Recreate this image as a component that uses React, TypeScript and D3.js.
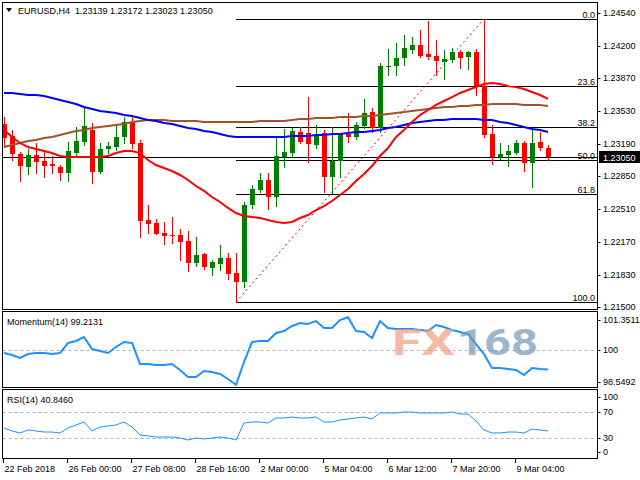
import * as d3 from 'd3';

// EURUSD H4 bars, 22 Feb 2018 16:00 .. 9 Mar 2018 20:00
const opens = [
  1.23392, 1.23268, 1.23082, 1.22948, 1.23072, 1.2301, 1.22979, 1.22948, 1.22886, 1.23092,
  1.23206, 1.2333, 1.22896, 1.23134, 1.23154, 1.23258, 1.23413, 1.23196, 1.224, 1.22369,
  1.22265, 1.22245, 1.22245, 1.22183, 1.21955, 1.22048, 1.21903, 1.21945, 1.22007, 1.21852,
  1.21759, 1.22555, 1.2271, 1.22813, 1.22637, 1.23051, 1.23092, 1.2331, 1.23299, 1.23175,
  1.23299, 1.22844, 1.2301, 1.23289, 1.23258, 1.23372, 1.23516, 1.23351, 1.23982, 1.23992,
  1.24075, 1.24157, 1.24209, 1.24116, 1.24095, 1.24033, 1.24054, 1.24137, 1.24085, 1.24137,
  1.23785, 1.23289, 1.23051, 1.23072, 1.23092, 1.23196, 1.22989, 1.23206, 1.23139,
];
const highs = [
  1.23465, 1.2333, 1.23103, 1.23134, 1.23196, 1.23103, 1.23061, 1.22968, 1.23206, 1.23361,
  1.23558, 1.23403, 1.23196, 1.23206, 1.23382, 1.23465, 1.23465, 1.23227, 1.22555, 1.2241,
  1.22379, 1.22431, 1.22307, 1.22286, 1.22224, 1.22058, 1.21986, 1.22141, 1.22058, 1.22058,
  1.22586, 1.22762, 1.22886, 1.22886, 1.23248, 1.23341, 1.23351, 1.23361, 1.23671, 1.23382,
  1.2333, 1.23361, 1.23299, 1.23506, 1.23413, 1.23651, 1.23558, 1.24023, 1.24168, 1.2423,
  1.24313, 1.24292, 1.24364, 1.24462, 1.24261, 1.24157, 1.24178, 1.24157, 1.24147, 1.24168,
  1.24478, 1.23382, 1.23196, 1.23175, 1.23227, 1.23217, 1.23351, 1.2331, 1.23172,
];
const lows = [
  1.23154, 1.2302, 1.22803, 1.22875, 1.22886, 1.22844, 1.22886, 1.22813, 1.22803, 1.23072,
  1.23175, 1.22782, 1.22886, 1.23092, 1.23123, 1.23196, 1.23144, 1.22224, 1.22265, 1.22255,
  1.22151, 1.22162, 1.21986, 1.21872, 1.21924, 1.21893, 1.21831, 1.21883, 1.2179, 1.21552,
  1.21707, 1.22524, 1.22689, 1.22513, 1.22544, 1.22948, 1.23051, 1.23196, 1.22999, 1.23144,
  1.22689, 1.22679, 1.22844, 1.23206, 1.23237, 1.23351, 1.2331, 1.2331, 1.23899, 1.23899,
  1.24002, 1.24126, 1.24085, 1.24064, 1.23899, 1.23858, 1.24033, 1.23971, 1.23961, 1.23692,
  1.23258, 1.22979, 1.2303, 1.22958, 1.23082, 1.22906, 1.22741, 1.23123, 1.23023,
];
const closes = [
  1.23248, 1.23082, 1.22958, 1.23072, 1.22999, 1.22958, 1.22958, 1.22886, 1.23113, 1.23217,
  1.23372, 1.22896, 1.23134, 1.23165, 1.23258, 1.23413, 1.23186, 1.22389, 1.22358, 1.22255,
  1.22234, 1.2224, 1.22172, 1.21955, 1.22038, 1.21914, 1.21965, 1.22007, 1.21841, 1.21759,
  1.22555, 1.2272, 1.22813, 1.22637, 1.23061, 1.23103, 1.2332, 1.23206, 1.23186, 1.23279,
  1.22844, 1.2301, 1.23289, 1.23258, 1.23382, 1.23506, 1.23351, 1.23992, 1.23987, 1.24075,
  1.24178, 1.24209, 1.24095, 1.24085, 1.24044, 1.24064, 1.24137, 1.24075, 1.24137, 1.23785,
  1.23279, 1.23051, 1.23082, 1.23113, 1.23196, 1.22989, 1.23196, 1.23144, 1.2305,
];

// moving averages
const maFast = [
  1.2333, 1.23258, 1.23196, 1.23154, 1.23134, 1.23113, 1.23092, 1.23061, 1.23051, 1.23051,
  1.23051, 1.23051, 1.23051, 1.23061, 1.23092, 1.23113, 1.23113, 1.23092, 1.2302, 1.22968,
  1.22937, 1.22906, 1.22865, 1.22813, 1.22751, 1.227, 1.22637, 1.22586, 1.22524, 1.22472,
  1.22441, 1.22431, 1.2242, 1.224, 1.22379, 1.22369, 1.22379, 1.2242, 1.22451, 1.22503,
  1.22544, 1.22596, 1.22658, 1.2272, 1.22803, 1.22875, 1.22958, 1.23061, 1.23144, 1.23258,
  1.2333, 1.23413, 1.23485, 1.23537, 1.23589, 1.2363, 1.23671, 1.23713, 1.23744, 1.23775,
  1.23806, 1.23816, 1.23806, 1.23785, 1.23775, 1.23754, 1.23723, 1.23692, 1.23651,
];
const maMid = [
  1.23713, 1.23713, 1.23702, 1.23692, 1.23692, 1.23682, 1.23661, 1.2364, 1.2362, 1.23599,
  1.23568, 1.23547, 1.23527, 1.23516, 1.23506, 1.23485, 1.23475, 1.23454, 1.23434, 1.23423,
  1.23403, 1.23392, 1.23372, 1.23351, 1.23341, 1.2332, 1.2331, 1.23289, 1.23268, 1.23258,
  1.23258, 1.23258, 1.23258, 1.23258, 1.23258, 1.23258, 1.23268, 1.23268, 1.23268, 1.23279,
  1.23279, 1.23289, 1.23289, 1.23299, 1.2331, 1.2331, 1.2332, 1.2333, 1.23351, 1.23361,
  1.23382, 1.23403, 1.23413, 1.23423, 1.23434, 1.23434, 1.23444, 1.23444, 1.23444, 1.23444,
  1.23434, 1.23434, 1.23413, 1.23403, 1.23382, 1.23361, 1.23341, 1.2333, 1.2331,
];
const maSlow = [
  1.23154, 1.23175, 1.23196, 1.23217, 1.23227, 1.23248, 1.23258, 1.23279, 1.23299, 1.2332,
  1.2333, 1.23351, 1.23361, 1.23372, 1.23382, 1.23392, 1.23413, 1.23423, 1.23434, 1.23434,
  1.23434, 1.23423, 1.23423, 1.23423, 1.23423, 1.23413, 1.23413, 1.23413, 1.23413, 1.23413,
  1.23413, 1.23413, 1.23423, 1.23423, 1.23423, 1.23423, 1.23434, 1.23444, 1.23444, 1.23454,
  1.23454, 1.23454, 1.23465, 1.23465, 1.23465, 1.23475, 1.23475, 1.23485, 1.23496, 1.23506,
  1.23516, 1.23527, 1.23537, 1.23547, 1.23558, 1.23568, 1.23568, 1.23578, 1.23578, 1.23589,
  1.23589, 1.23599, 1.23599, 1.23599, 1.23599, 1.23589, 1.23589, 1.23589, 1.23578,
];

const momentum = [
  99.87, 99.79, 99.67, 99.83, 99.87, 99.87, 99.83, 99.87, 100.27, 100.35,
  100.51, 100.03, 99.95, 99.87, 100.11, 100.31, 100.27, 99.43, 99.43, 99.39,
  99.39, 99.43, 99.19, 98.91, 98.91, 99.15, 99.11, 99.03, 98.83, 98.6,
  99.51, 100.31, 100.35, 100.35, 100.67, 100.75, 100.95, 101.07, 101.03, 101.15,
  100.87, 100.87, 101.19, 101.3, 100.75, 100.71, 100.47, 101.15, 100.87, 100.83,
  100.83, 100.83, 100.79, 100.75, 100.99, 100.91, 100.79, 100.71, 100.63, 100.23,
  99.83, 99.27, 99.27, 99.23, 99.19, 98.99, 99.27, 99.23, 99.2131,
];
const rsi = [
  45.4, 40.8, 37.7, 42.3, 40.8, 39.2, 39.2, 37.7, 45.4, 50.0,
  54.6, 40.8, 46.9, 48.5, 50.0, 54.6, 46.9, 34.6, 33.1, 31.5,
  31.5, 31.5, 30.0, 26.9, 30.0, 28.5, 30.0, 31.5, 30.0, 26.9,
  53.1, 54.6, 54.6, 53.1, 60.8, 60.8, 62.3, 60.8, 60.8, 62.3,
  54.6, 54.6, 57.7, 59.2, 60.8, 62.3, 59.2, 68.5, 68.5, 68.5,
  70.0, 70.0, 68.5, 68.5, 68.5, 68.5, 70.0, 66.9, 66.9, 56.2,
  42.3, 37.7, 37.7, 39.2, 39.2, 37.7, 43.8, 42.3, 40.846,
];

const priceTicks = [1.2454, 1.242, 1.2387, 1.2353, 1.2319, 1.2285, 1.2251, 1.2217, 1.2183, 1.215];
const momTicks = [101.3511, 100, 98.5492];
const rsiTicks = [100, 70, 30, 0];
const timeTicks = [0, 8, 16, 24, 32, 40, 48, 56, 64];
const timeLabels = [
  '22 Feb 2018', '26 Feb 00:00', '27 Feb 08:00', '28 Feb 16:00', '2 Mar 00:00',
  '5 Mar 04:00', '6 Mar 12:00', '7 Mar 20:00', '9 Mar 04:00',
];
const fibLevels = [0, 23.6, 38.2, 50, 61.8, 100];
const fibLow = 29;
const fibHigh = 60;

const FONT = "'Liberation Sans', Arial, sans-serif";
const BULL = '#008000';
const BEAR = '#FF0000';
const DODGER = '#1E90FF';

const L = 2.5;
const R = 597.5;

export default function App() {
  const n = closes.length;
  const x = d3.scaleLinear().domain([0, 68]).range([4, 548]);
  const y = d3.scaleLinear().domain([1.215, 1.2454]).range([307, 13]);
  const yMom = d3.scaleLinear().domain([98.5492, 101.3511]).range([386, 316]);
  const yRsi = d3.scaleLinear().domain([0, 100]).range([457.5, 392.5]);

  const maLine = (vals: number[]) =>
    d3.line<number>().x((_, i) => x(i)).y((v) => y(v))(vals) ?? '';
  const momLine = d3.line<number>().x((_, i) => x(i)).y((v) => yMom(v))(momentum) ?? '';
  const rsiLine = d3.line<number>().x((_, i) => x(i)).y((v) => yRsi(v))(rsi) ?? '';

  const hi = highs[fibHigh];
  const lo = lows[fibLow];
  const fibX = x(fibLow);
  const last = closes[n - 1];
  const lastY = Math.round(y(last)) + 0.5;

  const txt = { fontFamily: FONT, fontSize: 9, fill: '#000' };

  return (
    <svg width={640} height={480} style={{ position: 'absolute', left: 0, top: 0, background: '#fff' }}>
      <rect x={0} y={0} width={640} height={480} fill="#fff" />

      {/* main panel */}
      <g>
        {/* fibonacci */}
        {fibLevels.map((lv) => {
          const py = Math.round(y(hi - (lv / 100) * (hi - lo))) + 0.5;
          return (
            <g key={lv}>
              <line x1={fibX} x2={R} y1={py} y2={py} stroke="#000" strokeWidth={1} />
              <text x={595} y={py - 2} textAnchor="end" {...txt}>{lv.toFixed(1)}</text>
            </g>
          );
        })}
        <line
          x1={x(fibLow)} y1={y(lo)} x2={x(fibHigh)} y2={y(hi)}
          stroke={BEAR} strokeWidth={1} strokeDasharray="2,3"
        />

        {/* bid line */}
        <line x1={L} x2={R} y1={lastY} y2={lastY} stroke="#000" strokeWidth={1} />

        {/* candles */}
        {closes.map((c, i) => {
          const o = opens[i];
          const col = c >= o ? BULL : BEAR;
          const cx = Math.round(x(i));
          const top = Math.round(y(Math.max(o, c)));
          const bot = Math.round(y(Math.min(o, c)));
          return (
            <g key={i} shapeRendering="crispEdges">
              <line x1={cx + 0.5} x2={cx + 0.5} y1={Math.round(y(highs[i]))} y2={Math.round(y(lows[i])) + 1} stroke={col} />
              <rect x={cx - 2} y={top} width={5} height={Math.max(1, bot - top)} fill={col} />
            </g>
          );
        })}

        <path d={maLine(maSlow)} fill="none" stroke="#A0522D" strokeWidth={2} />
        <path d={maLine(maMid)} fill="none" stroke="#0000FF" strokeWidth={2} />
        <path d={maLine(maFast)} fill="none" stroke="#FF0000" strokeWidth={2} />

        {/* header */}
        <path d="M6,8 L12,8 L9,12 Z" fill="#000" />
        <text x={18} y={14} {...txt} style={{ whiteSpace: 'pre' }}>
          {`EURUSD,H4  ${opens[n - 1].toFixed(5)} ${highs[n - 1].toFixed(5)} ${lows[n - 1].toFixed(5)} ${closes[n - 1].toFixed(5)}`}
        </text>

        <rect x={L} y={2.5} width={R - L} height={307} fill="none" stroke="#000" />
        {priceTicks.map((t) => (
          <g key={t}>
            <line x1={R} x2={R + 3} y1={Math.round(y(t)) + 0.5} y2={Math.round(y(t)) + 0.5} stroke="#000" />
            <text x={603} y={y(t) + 3} {...txt}>{t.toFixed(5)}</text>
          </g>
        ))}
        <rect x={599} y={lastY - 6.5} width={41} height={12} fill="#000" />
        <text x={603} y={lastY + 3} {...txt} fill="#fff">{last.toFixed(5)}</text>
      </g>

      {/* momentum panel */}
      <g>
        <line x1={L} x2={R} y1={Math.round(yMom(100)) + 0.5} y2={Math.round(yMom(100)) + 0.5} stroke="#b0b0b0" strokeDasharray="3,3" />
        <path d={momLine} fill="none" stroke={DODGER} strokeWidth={2} />
        <text x={392} y={355} fontFamily="Roboto, sans-serif" fontWeight={700} fontSize={37}
          fill="#F29C7C" fillOpacity={0.7} textLength={63} lengthAdjust="spacingAndGlyphs">FX</text>
        <text x={457} y={355} fontFamily="Roboto, sans-serif" fontWeight={700} fontSize={37}
          fill="#7095B5" fillOpacity={0.7} textLength={81} lengthAdjust="spacingAndGlyphs">168</text>
        <rect x={L} y={311.5} width={R - L} height={76} fill="none" stroke="#000" />
        <text x={7} y={325} {...txt}>{`Momentum(14) ${momentum[n - 1].toFixed(4)}`}</text>
        {momTicks.map((t) => {
          const ty = Math.min(382, Math.max(320, yMom(t)));
          return (
            <g key={t}>
              <line x1={R} x2={R + 3} y1={Math.round(ty) + 0.5} y2={Math.round(ty) + 0.5} stroke="#000" />
              <text x={603} y={ty + 3} {...txt}>{String(t)}</text>
            </g>
          );
        })}
      </g>

      {/* rsi panel */}
      <g>
        {[70, 30].map((lv) => (
          <line key={lv} x1={L} x2={R} y1={Math.round(yRsi(lv)) + 0.5} y2={Math.round(yRsi(lv)) + 0.5} stroke="#b0b0b0" strokeDasharray="3,3" />
        ))}
        <path d={rsiLine} fill="none" stroke={DODGER} strokeWidth={1} />
        <rect x={L} y={389.5} width={R - L} height={69} fill="none" stroke="#000" />
        <text x={7} y={403} {...txt}>{`RSI(14) ${rsi[n - 1].toFixed(4)}`}</text>
        {rsiTicks.map((t) => {
          const ty = Math.min(452, Math.max(397, yRsi(t)));
          return (
            <g key={t}>
              <line x1={R} x2={R + 3} y1={Math.round(ty) + 0.5} y2={Math.round(ty) + 0.5} stroke="#000" />
              <text x={603} y={ty + 3} {...txt}>{String(t)}</text>
            </g>
          );
        })}
      </g>

      {/* time axis */}
      {timeTicks.map((t, k) => {
        const tx = Math.round(x(t)) - 0.5;
        return (
          <g key={t}>
            <line x1={tx} x2={tx} y1={458.5} y2={463} stroke="#000" />
            <text x={tx + 1} y={472} {...txt}>{timeLabels[k]}</text>
          </g>
        );
      })}
    </svg>
  );
}
